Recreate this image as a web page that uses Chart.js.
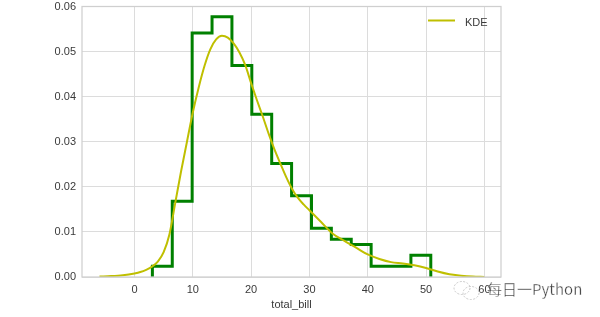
<!DOCTYPE html>
<html>
<head>
<meta charset="utf-8">
<script src="https://cdn.jsdelivr.net/npm/chart.js@4/dist/chart.umd.min.js"></script>
<style>
html,body{margin:0;padding:0;background:#fff;}
#wrap{position:relative;width:600px;height:317px;}
#c{position:absolute;left:0;top:0;}
#wm{position:absolute;left:0;top:0;pointer-events:none;}
</style>
</head>
<body>
<div id="wrap">
<canvas id="c" width="600" height="317"></canvas>
<svg id="wm" width="600" height="317">
  <g fill="none" stroke="#c8c8c8" stroke-width="1" stroke-dasharray="2,1.5">
    <ellipse cx="462" cy="288" rx="8" ry="6.5"/>
    <ellipse cx="471" cy="293" rx="8" ry="6.5"/>
  </g>
  <text x="487" y="295" font-family="'Noto Sans CJK SC','Noto Sans',sans-serif" font-size="15" fill="#444" stroke="#fff" stroke-width="0.3">每日一Python</text>
</svg>
</div>
<script>
// ---- data ----
const binEdges = [3.07, 6.48, 9.89, 13.30, 16.71, 20.12, 23.53, 26.94, 30.35, 33.76, 37.17, 40.58, 43.99, 47.40, 50.81];
const binDensity = [0.0024, 0.0168, 0.0541, 0.0577, 0.0469, 0.0361, 0.0252, 0.0180, 0.0108, 0.0084, 0.0072, 0.0024, 0.0024, 0.0048];

const kdeX = [-6, -4, -2, 0, 1, 2, 3, 4, 5, 6, 7, 8, 9, 10, 11, 12, 13, 14, 15, 16, 17, 18, 19, 20, 21, 22, 23, 24, 25, 26, 27, 28, 29, 30, 32, 34, 36, 38, 40, 42, 44, 46, 48, 50, 52, 54, 56, 58, 60];
const kdeY = [0.0001, 0.0002, 0.0004, 0.0008, 0.0011, 0.0016, 0.0023, 0.0034, 0.0055, 0.0095, 0.0165, 0.0235, 0.0300, 0.0365, 0.0420, 0.0468, 0.0505, 0.0527, 0.0535, 0.0531, 0.0518, 0.0498, 0.0470, 0.0430, 0.0392, 0.0356, 0.0318, 0.0283, 0.0252, 0.0222, 0.0196, 0.0176, 0.0161, 0.0148, 0.0122, 0.0096, 0.0080, 0.0065, 0.0050, 0.0040, 0.0033, 0.0030, 0.0026, 0.0020, 0.0012, 0.0006, 0.0003, 0.0001, 0.0000];

const xTicks = [0, 10, 20, 30, 40, 50, 60];
const yTicks = [0.00, 0.01, 0.02, 0.03, 0.04, 0.05, 0.06];
const xLabel = 'total_bill';
const kdeLabel = 'KDE';

// ---- build datasets ----
const histPoints = [{x: binEdges[0], y: 0}];
binDensity.forEach((d, i) => histPoints.push({x: binEdges[i], y: d}));
histPoints.push({x: binEdges[binEdges.length - 1], y: 0});
const kdePoints = kdeX.map((x, i) => ({x: x, y: kdeY[i]}));

const FONT = "'Liberation Sans', Arial, sans-serif";
Chart.defaults.font.family = FONT;
Chart.defaults.font.size = 11;
Chart.defaults.color = '#3a3a3a';

const frameAndLegend = {
  id: 'frameAndLegend',
  afterDatasetsDraw(chart) {
    const {ctx, chartArea: a} = chart;
    ctx.save();
    ctx.strokeStyle = '#cfcfcf';
    ctx.lineWidth = 1.25;
    ctx.strokeRect(a.left, a.top, a.right - a.left, a.bottom - a.top);
    // legend
    const ds = chart.data.datasets.find(d => d.label === kdeLabel);
    ctx.strokeStyle = ds.borderColor;
    ctx.lineWidth = 2;
    ctx.beginPath();
    ctx.moveTo(a.right - 73, a.top + 14);
    ctx.lineTo(a.right - 46, a.top + 14);
    ctx.stroke();
    ctx.fillStyle = '#3a3a3a';
    ctx.font = '11px ' + FONT;
    ctx.textBaseline = 'middle';
    ctx.textAlign = 'left';
    ctx.fillText(ds.label, a.right - 36, a.top + 16);
    ctx.restore();
  }
};

function zeroPad(scale) {
  scale.paddingTop = 0; scale.paddingBottom = 0;
  scale.paddingLeft = 0; scale.paddingRight = 0;
}

new Chart(document.getElementById('c'), {
  type: 'line',
  data: {
    datasets: [
      {
        label: kdeLabel,
        data: kdePoints,
        borderColor: '#bfbf00',
        borderWidth: 2,
        pointRadius: 0,
        cubicInterpolationMode: 'monotone',
        fill: false,
        order: 0
      },
      {
        label: 'hist',
        data: histPoints,
        borderColor: '#008000',
        borderWidth: 3,
        pointRadius: 0,
        stepped: 'before',
        borderJoinStyle: 'miter',
        borderCapStyle: 'butt',
        fill: false,
        order: 1
      }
    ]
  },
  options: {
    responsive: false,
    animation: false,
    events: [],
    layout: {autoPadding: false, padding: {left: 0, right: 99, top: 6.5, bottom: 0}},
    plugins: {legend: {display: false}, tooltip: {enabled: false}},
    scales: {
      x: {
        type: 'linear',
        min: -9.0,
        max: 62.85,
        afterBuildTicks(scale) { scale.ticks = xTicks.map(v => ({value: v})); },
        afterFit(scale) { scale.height = 40; zeroPad(scale); },
        grid: {color: '#dcdcdc', lineWidth: 1, drawTicks: false},
        border: {display: false},
        ticks: {padding: 6, color: '#3a3a3a', callback: v => String(v)},
        title: {display: true, text: xLabel, color: '#3a3a3a', font: {size: 11}, padding: {top: 0, bottom: 5}}
      },
      y: {
        type: 'linear',
        min: 0,
        max: 0.06,
        afterBuildTicks(scale) { scale.ticks = yTicks.map(v => ({value: v})); },
        afterFit(scale) { scale.width = 82; zeroPad(scale); },
        grid: {color: '#dcdcdc', lineWidth: 1, drawTicks: false},
        border: {display: false},
        ticks: {padding: 6, color: '#3a3a3a', callback: v => v.toFixed(2)}
      }
    }
  },
  plugins: [frameAndLegend]
});
</script>
</body>
</html>
